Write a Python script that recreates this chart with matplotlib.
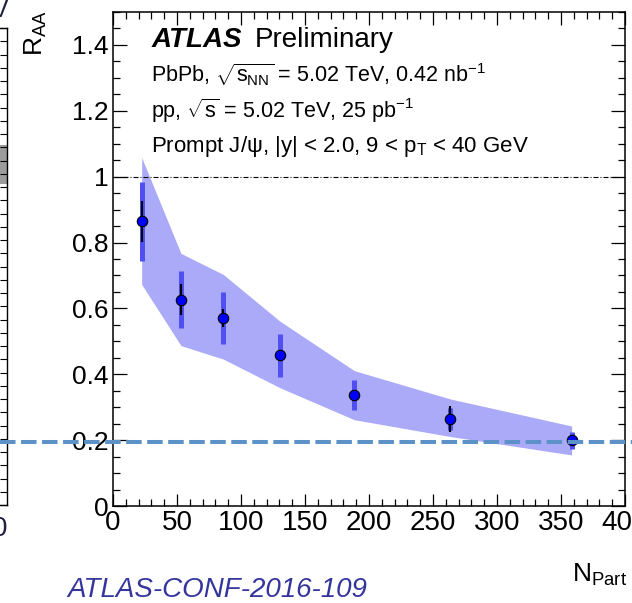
import matplotlib
matplotlib.use("Agg")
import matplotlib.pyplot as plt
from matplotlib.ticker import MultipleLocator, FuncFormatter
from matplotlib import transforms
from matplotlib.lines import Line2D

plt.rcParams["font.family"] = ["Liberation Sans", "DejaVu Sans"]
plt.rcParams["mathtext.fontset"] = "custom"
plt.rcParams["mathtext.rm"] = "Liberation Sans"
plt.rcParams["mathtext.it"] = "Liberation Sans:italic"
plt.rcParams["mathtext.bf"] = "Liberation Sans:bold"

# Prompt J/psi R_AA versus N_part
n_part = [22.4, 53.1, 86.2, 130.5, 188.5, 263.5, 358.3]
r_aa = [0.865, 0.627, 0.571, 0.457, 0.336, 0.264, 0.199]
stat_err = [0.062, 0.046, 0.026, 0.015, 0.012, 0.040, 0.010]
syst_err = [0.120, 0.086, 0.079, 0.064, 0.046, 0.034, 0.025]
band_hi = [1.058, 0.767, 0.703, 0.561, 0.411, 0.325, 0.243]
band_lo = [0.673, 0.487, 0.446, 0.359, 0.262, 0.211, 0.155]
ref_level = 0.194

x_ticks = [0, 50, 100, 150, 200, 250, 300, 350, 400]
y_ticks = [0, 0.2, 0.4, 0.6, 0.8, 1.0, 1.2, 1.4]

W, H = 632, 603
fig = plt.figure(figsize=(W / 100, H / 100), dpi=100)
fig.patch.set_facecolor("white")


def fx(px):
    return px / W


def fy(py):
    return 1 - py / H


# neighbouring panel edge on the left
ax0 = fig.add_axes([fx(7 - 300), fy(505), fx(300), fy(28) - fy(505)])
ax0.set_xlim(0, 1)
ax0.set_ylim(0, 1.8)
ax0.axhspan(1.21, 1.36, color="#9c9c9c", lw=0)
ax0.spines["left"].set_visible(False)
for s in ("right", "top", "bottom"):
    ax0.spines[s].set_linewidth(1.0)
ax0.set_xticks([])
ax0.yaxis.set_ticks_position("right")
ax0.yaxis.set_major_locator(MultipleLocator(0.05))
ax0.tick_params(axis="y", direction="in", length=5, width=0.8, labelright=False)
fig.text(fx(9), fy(-2), "V", ha="right", va="top", fontsize=18, color="#202040")
fig.text(fx(7), fy(529), "0", ha="right", va="center", fontsize=20, color="#202040")

# main panel
ax = fig.add_axes([fx(113), fy(506), fx(625) - fx(113), fy(12) - fy(506)])
ax.set_xlim(0, 400)
ax.set_ylim(0, 1.5)

ax.fill_between(n_part, band_lo, band_hi, color="#aaaaf8", lw=0, zorder=1)
ax.axhline(1.0, color="black", lw=0.8, dashes=(4.5, 1.8, 0.9, 1.8), zorder=1.5)
ax.errorbar(n_part, r_aa, yerr=syst_err, fmt="none", ecolor="#4f4ff2",
            elinewidth=3.6, capsize=0, zorder=2)
ax.errorbar(n_part, r_aa, yerr=stat_err, fmt="none", ecolor="black",
            elinewidth=1.5, capsize=0, zorder=3)
ax.plot(n_part, r_aa, "o", ms=7.5, mfc="#0000ff", mec="black", mew=0.8, zorder=4)

ax.set_xticks(x_ticks)
ax.set_yticks(y_ticks)
ax.xaxis.set_minor_locator(MultipleLocator(10))
ax.yaxis.set_minor_locator(MultipleLocator(0.05))
ax.xaxis.set_major_formatter(FuncFormatter(lambda v, p: f"{v:g}"))
ax.yaxis.set_major_formatter(FuncFormatter(lambda v, p: f"{v:g}"))
ax.tick_params(which="both", direction="in", top=True, right=True, width=0.9)
ax.tick_params(axis="x", which="major", length=9, labelsize=20, pad=3)
ax.tick_params(axis="x", which="minor", length=5)
ax.tick_params(axis="y", which="major", length=10, labelsize=19, pad=3.5)
ax.tick_params(axis="y", which="minor", length=5)
for s in ax.spines.values():
    s.set_linewidth(1.1)

# labels and captions
fig.text(fx(43), fy(10), r"R$_{\mathregular{AA}}$", rotation=90, rotation_mode="anchor",
         ha="right", va="baseline", fontsize=19)
fig.text(fx(627), fy(582), r"N$_{\mathregular{Part}}$", ha="right", va="baseline", fontsize=19)
fig.text(fx(67), fy(597), "ATLAS-CONF-2016-109", ha="left", va="baseline",
         fontsize=20, style="italic", color="#35359e")

fig.text(fx(152), fy(47), "ATLAS", ha="left", va="baseline", fontsize=20,
         weight="bold", style="italic")
fig.text(fx(255), fy(47), "Preliminary", ha="left", va="baseline", fontsize=20)
fig.text(fx(151), fy(82),
         r"PbPb, $\sqrt{\mathregular{s_{NN}}}$ = 5.02 TeV, 0.42 nb$^{\mathregular{-1}}$",
         ha="left", va="baseline", fontsize=15.5)
fig.text(fx(151), fy(118),
         r"pp, $\sqrt{\mathregular{s}}$ = 5.02 TeV, 25 pb$^{\mathregular{-1}}$",
         ha="left", va="baseline", fontsize=15.5)
fig.text(fx(151), fy(152),
         r"Prompt J/ψ, |y| < 2.0, 9 < p$_{\mathregular{T}}$ < 40 GeV",
         ha="left", va="baseline", fontsize=16)

# horizontal reference level across the whole slide
trans = transforms.blended_transform_factory(fig.transFigure, ax.transData)
fig.add_artist(Line2D([0, 1], [ref_level, ref_level], transform=trans,
                      color="#5d92c9", lw=2.9, dashes=(3.85, 1.37), zorder=5))

fig.savefig("out.png", dpi=100, facecolor="white")
